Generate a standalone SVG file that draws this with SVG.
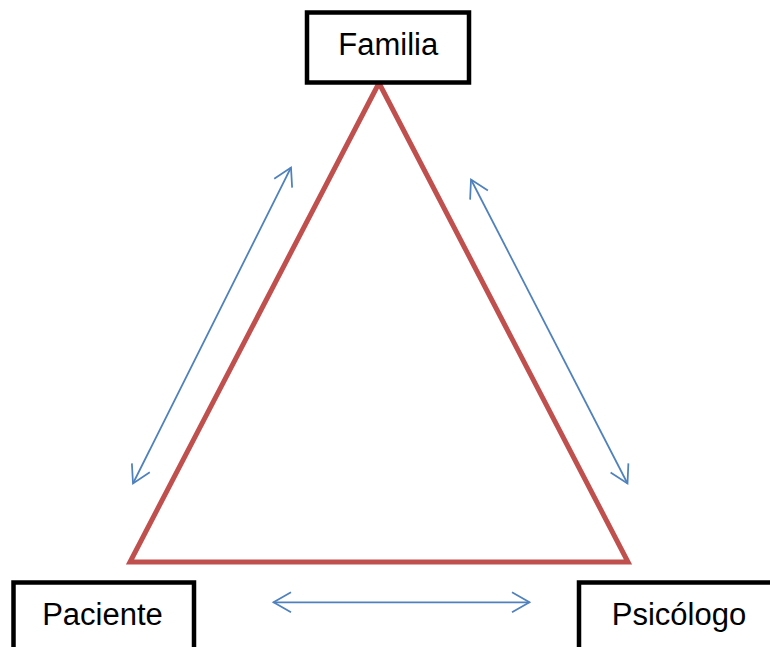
<svg xmlns="http://www.w3.org/2000/svg" width="770" height="647" viewBox="0 0 770 647">
<style>
.box{fill:#fff;stroke:#000;stroke-width:4.5}
.lbl{font-family:"Liberation Sans",Arial,sans-serif;font-size:31px;fill:#000;text-anchor:middle}
.tri{fill:none;stroke:#C0504D;stroke-width:5;stroke-linejoin:miter}
.arr{fill:none;stroke:#4F81BD;stroke-width:1.75;marker-start:url(#ah);marker-end:url(#ah)}
</style>
<defs>
<marker id="ah" markerUnits="userSpaceOnUse" viewBox="-20 -12 24 24" refX="0" refY="0" markerWidth="24" markerHeight="24" orient="auto-start-reverse" overflow="visible">
<path d="M-17.5,-10 L0,0 L-17.5,10" fill="none" stroke="#4F81BD" stroke-width="1.75"/>
</marker>
</defs>
<rect width="770" height="647" fill="#fff"/>
<g id="triangle">
<path class="tri" d="M379,83 L130,562 L628,562 Z"/>
</g>
<g id="familia">
<rect class="box" x="307" y="12.5" width="162" height="70"/>
<text class="lbl" x="388.3" y="55">Familia</text>
</g>
<g id="paciente">
<rect class="box" x="13.5" y="582.5" width="180.5" height="80"/>
<text class="lbl" x="102.5" y="624.5">Paciente</text>
</g>
<g id="psicologo">
<rect class="box" x="579" y="582.5" width="210" height="80"/>
<text class="lbl" x="679" y="625">Psicólogo</text>
</g>
<g id="connectors">
<line class="arr" x1="133" y1="483.5" x2="291" y2="167.5"/>
<line class="arr" x1="471" y1="179.5" x2="627.5" y2="483.5"/>
<line class="arr" x1="273.5" y1="602.3" x2="529.5" y2="602.3"/>
</g>
</svg>
